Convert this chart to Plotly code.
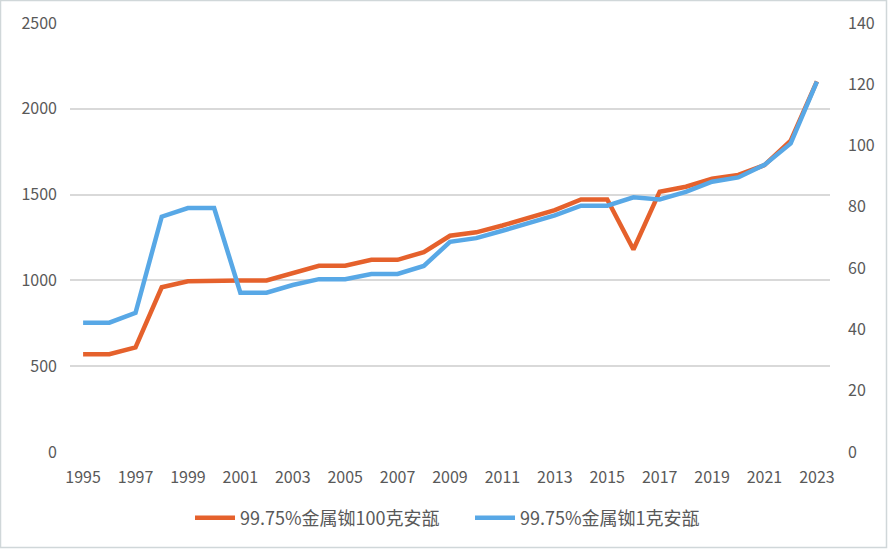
import plotly.graph_objects as go

years = list(range(1995, 2024))
price_100g = [570, 570, 610, 960, 995, 1000, 1000, 1000, 1040, 1085, 1085, 1120, 1120, 1165,
              1260, 1280, 1320, 1365, 1410, 1472, 1472, 1180, 1517, 1546, 1592, 1615, 1672, 1815, 2160]
price_1g = [42.2, 42.2, 45.4, 76.8, 79.6, 79.6, 52.0, 52.0, 54.5, 56.4, 56.4, 58.1, 58.1, 60.7,
            68.6, 69.8, 72.2, 74.6, 77.2, 80.4, 80.4, 83.1, 82.4, 84.9, 88.2, 89.6, 93.7, 100.7, 120.9]
series_names = ["99.75%金属铷100克安瓿", "99.75%金属铷1克安瓿"]
x_ticks = list(range(1995, 2024, 2))
left_ticks = [0, 500, 1000, 1500, 2000, 2500]
right_ticks = [0, 20, 40, 60, 80, 100, 120, 140]

W, H = 888, 549
ml, mr, mt, mb = 70, 58, 23, 97
pw, ph = W - ml - mr, H - mt - mb

fam = "Noto Sans CJK SC, Microsoft YaHei, sans-serif"
font = dict(family=fam, size=16, color="#595959")

fig = go.Figure()
fig.add_trace(go.Scatter(x=years, y=price_100g, name=series_names[0], mode="lines",
                         line=dict(color="#E5612C", width=4.5)))
fig.add_trace(go.Scatter(x=years, y=price_1g, name=series_names[1], mode="lines", yaxis="y2",
                         line=dict(color="#58A8E6", width=4.5)))

fig.update_layout(
    width=W, height=H,
    margin=dict(l=ml, r=mr, t=mt, b=mb, autoexpand=False),
    paper_bgcolor="white", plot_bgcolor="white",
    font=font,
    showlegend=True,
    legend=dict(orientation="h", x=(470 - ml) / pw, xanchor="center", y=-(518 - 452) / ph,
                yanchor="middle",
                font=dict(family=fam, size=18, color="#595959"), itemwidth=40,
                entrywidth=225, entrywidthmode="pixels",
                traceorder="normal"),
    xaxis=dict(range=[1994.5, 2023.5], tickmode="array", tickvals=x_ticks,
               showgrid=False, zeroline=False, showline=False, ticks="",
               tickfont=font, ticklabelstandoff=14, automargin=False),
    yaxis=dict(range=[0, 2500], tickmode="array", tickvals=left_ticks,
               showgrid=True, gridcolor="#D9D9D9", gridwidth=1.5, zeroline=False,
               showline=False, ticks="", tickfont=font, ticklabelstandoff=12, automargin=False),
    yaxis2=dict(range=[0, 140], tickmode="array", tickvals=right_ticks, overlaying="y",
                side="right", showgrid=False, zeroline=False, showline=False, ticks="",
                tickfont=font, ticklabelstandoff=17, automargin=False),
    shapes=[dict(type="rect", xref="paper", yref="paper",
                 x0=-(ml - 0.5) / pw, x1=(W - ml - 1.5) / pw,
                 y0=-(mb - 1.5) / ph, y1=(ph + mt - 0.5) / ph,
                 line=dict(color="#D0D7D9", width=1.5), layer="below")],
)

fig.write_html("out.html", config={"displayModeBar": False},
               post_script="document.body.style.margin='0';document.body.style.overflow='hidden';")
